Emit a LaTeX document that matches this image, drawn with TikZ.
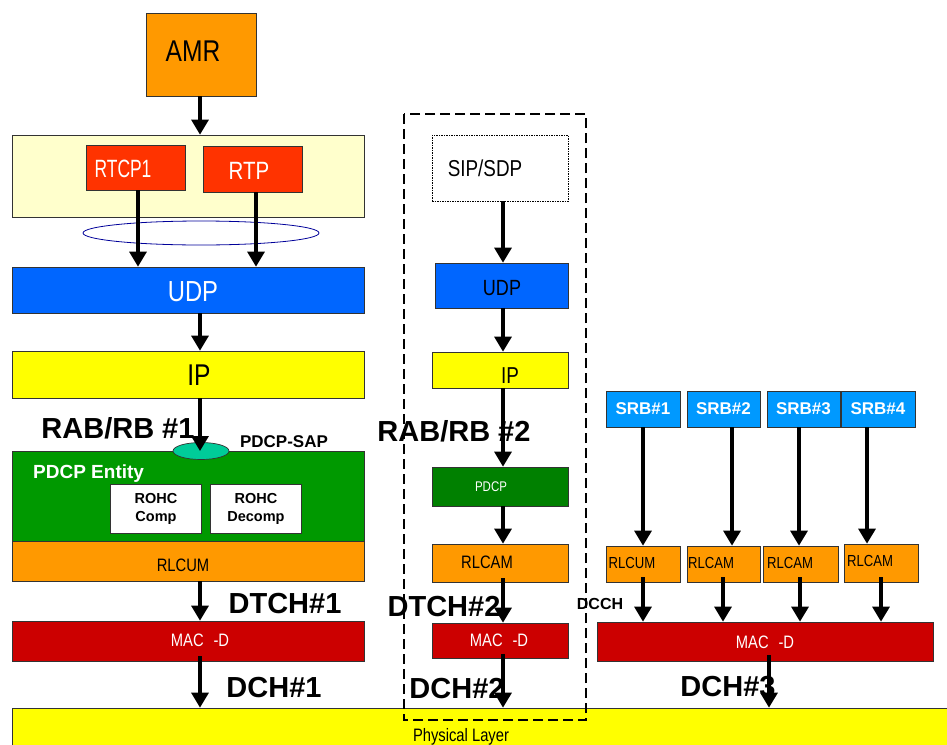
\documentclass[tikz,border=0pt]{standalone}
\usepackage{fontspec}
\usepackage{graphicx}
\setmainfont{Liberation Sans}
\newfontfamily\nf[FakeStretch=0.82]{Liberation Sans}
\usetikzlibrary{arrows.meta,shapes.geometric}
\definecolor{cOrange}{HTML}{FF9900}
\definecolor{cPale}{HTML}{FFFFCC}
\definecolor{cRed}{HTML}{FF3300}
\definecolor{cBlue}{HTML}{0066FF}
\definecolor{cYellow}{HTML}{FFFF00}
\definecolor{cSap}{HTML}{00CC99}
\definecolor{cGreen}{HTML}{009900}
\definecolor{cDGreen}{HTML}{008000}
\definecolor{cMac}{HTML}{CC0000}
\definecolor{cSrb}{HTML}{0099FF}
\definecolor{cEll}{HTML}{000099}
\begin{document}
\begin{tikzpicture}[x=1pt,y=-1pt,
  bx/.style={draw=black!80, line width=0.7pt, inner sep=0pt},
  sz/.style 2 args={minimum width=#1pt, minimum height=#2pt},
  arr/.style={line width=3.2pt, -{Triangle[width=17pt,length=15pt]}},
  sq/.style={inner sep=0pt, font=\nf\fontsize{#1}{#1}\selectfont},
  bl/.style={inner sep=0pt, font=\bfseries\fontsize{#1}{#1}\selectfont},
  dashbox/.style={line width=2.5pt, dash pattern=on 10pt off 5pt}]
\useasboundingbox (0,0) rectangle (947,744);

% ---------------- left column ----------------
\node[bx,sz={110}{83},fill=cOrange] (amr) at (201,54.5) {};
\node[sq=30] (amrT) at (193,51) {AMR};
\node[bx,sz={352}{82},fill=cPale] (yel) at (188,176) {};
\node[bx,sz={99}{45},fill=cRed] (rtcp) at (135.5,167.5) {};
\node[sq=25,text=white] (rtcpT) at (123,169) {\scalebox{0.85}[1]{RTCP1}};
\node[bx,sz={99}{46},fill=cRed] (rtp) at (252.5,169) {};
\node[sq=25,text=white] (rtpT) at (249,171) {RTP};
\node[ellipse,draw=cEll,line width=0.8pt,minimum width=236pt,minimum height=24pt,inner sep=0pt] (grp) at (201,233) {};
\node[bx,sz={352}{46},fill=cBlue] (udpL) at (188,290) {};
\node[sq=29,text=white] (udpLT) at (193,292) {UDP};
\node[bx,sz={352}{47},fill=cYellow] (ipL) at (188,374.5) {};
\node[sq=30] (ipLT) at (199,375) {IP};
\node[bx,sz={352}{90},fill=cGreen] (pdcpL) at (188,496) {};
\node[bl=19,text=white,anchor=base west] (pdcpLT) at (33,478) {PDCP Entity};
\node[bx,sz={91}{49},fill=white,align=center,font=\bfseries\fontsize{14.5}{18}\selectfont] (comp) at (156,508.5) {ROHC\\Comp};
\node[bx,sz={91}{49},fill=white,align=center,font=\bfseries\fontsize{14.5}{18}\selectfont] (decomp) at (256,508.5) {ROHC\\Decomp};
\node[ellipse,draw=black!80,line width=0.7pt,fill=cSap,minimum width=56pt,minimum height=17pt,inner sep=0pt] (sap) at (201,451) {};
\node[bl=17,anchor=base] (sapT) at (284,447) {PDCP-SAP};
\node[bl=29,anchor=base] (rab1) at (118,438) {RAB/RB \#1};
\node[bx,sz={352}{40},fill=cOrange] (rlcL) at (188,561) {};
\node[sq=18] (rlcLT) at (183,565) {RLCUM};
\node[bx,sz={352}{40},fill=cMac] (macL) at (188,641) {};
\node[sq=18,text=white] (macLT) at (200,640) {MAC\hspace{0.55em}-D};
\node[bl=29,anchor=base] (dtch1) at (285,613) {DTCH\#1};
\node[bl=29,anchor=base] (dch1) at (274,697) {DCH\#1};

% ---------------- physical layer ----------------
\node[bx,sz={948}{42},fill=cYellow] (phy) at (486,729) {};
\node[sq=18,anchor=base] (phyT) at (461,741) {Physical Layer};

% ---------------- middle column ----------------
\node[draw=black,line width=0.8pt,dash pattern=on 1.5pt off 1pt,fill=white,inner sep=0pt,sz={136}{66}] (sip) at (500,168) {};
\node[sq=23,anchor=base] (sipT) at (485,176) {SIP/SDP};
\node[bx,sz={133}{45},fill=cBlue] (udpM) at (501.5,285.5) {};
\node[sq=22] (udpMT) at (502,288) {UDP};
\node[bx,sz={136}{36},fill=cYellow] (ipM) at (500,370) {};
\node[sq=23] (ipMT) at (510,376) {IP};
\node[bl=29,anchor=base] (rab2) at (454,441) {RAB/RB \#2};
\node[bx,sz={136}{39},fill=cDGreen] (pdcpM) at (500,486.5) {};
\node[sq=14,text=white] (pdcpMT) at (491,487) {PDCP};
\node[bx,sz={136}{38},fill=cOrange] (rlcM) at (500,563) {};
\node[sq=18] (rlcMT) at (487,562) {RLCAM};
\node[bx,sz={136}{35},fill=cMac] (macM) at (500,640.5) {};
\node[sq=18,text=white] (macMT) at (499,640) {MAC\hspace{0.55em}-D};
\node[bl=29,anchor=base] (dtch2) at (444,616) {DTCH\#2};
\node[bl=29,anchor=base] (dch2) at (457,698) {DCH\#2};

% ---------------- right column ----------------
\foreach \n/\x/\w in {1/643/74, 2/723.5/73, 3/803.5/73, 4/878/74}
  \node[bx,sz={\w}{36},fill=cSrb,text=white,font=\bfseries\fontsize{17}{17}\selectfont] (srb\n) at (\x,409) {SRB\#\n};
\node[bx,sz={74}{36},fill=cOrange] (rlc1) at (643,564) {};
\node[bx,sz={73}{36},fill=cOrange] (rlc2) at (723.5,564) {};
\node[bx,sz={75}{36},fill=cOrange] (rlc3) at (800.5,564) {};
\node[bx,sz={74}{38},fill=cOrange] (rlc4) at (881,563) {};
\node[sq=16] (rlc1T) at (632,563) {RLCUM};
\node[sq=16] (rlc2T) at (711,563) {RLCAM};
\node[sq=16] (rlc3T) at (790,563) {RLCAM};
\node[sq=16] (rlc4T) at (870,561) {RLCAM};
\node[bx,sz={336}{39},fill=cMac] (macR) at (765,641.5) {};
\node[sq=18,text=white] (macRT) at (765,642) {MAC\hspace{0.55em}-D};
\node[bl=16] (dcch) at (600,604) {DCCH};
\node[bl=29,anchor=base] (dch3) at (728,696) {DCH\#3};

% ---------------- dashed frame ----------------
\draw[dashbox] (404,114) rectangle (586,720);

% ---------------- connectors ----------------
\coordinate (cL) at (200,0);
\coordinate (cM) at (503,0);
\coordinate (xa) at (138,0);
\coordinate (xb) at (256,0);
\coordinate (xr) at (769,0);
\draw[arr] (amr.south -| cL) -- (yel.north -| cL);
\draw[arr] (rtcp.south -| xa) -- (udpL.north -| xa);
\draw[arr] (rtp.south -| xb) -- (udpL.north -| xb);
\draw[arr] (udpL.south -| cL) -- (ipL.north -| cL);
\draw[arr] (ipL.south -| cL) -- (sap.center -| cL);
\draw[arr] (rlcL.south -| cL) -- (macL.north -| cL);
\draw[arr] ([yshift=5pt]macL.south -| cL) -- (phy.north -| cL);

\draw[arr] (sip.south -| cM) -- (udpM.north -| cM);
\draw[arr] (udpM.south -| cM) -- (ipM.north -| cM);
\draw[arr] (ipM.south -| cM) -- (pdcpM.north -| cM);
\draw[arr] (pdcpM.south -| cM) -- (rlcM.north -| cM);
\draw[arr] ([yshift=4pt]rlcM.south -| cM) -- (macM.north -| cM);
\draw[arr] ([yshift=4pt]macM.south -| cM) -- (phy.north -| cM);

\foreach \n/\xa/\xb in {1/643/643, 2/732/723, 3/799/800, 4/867/881} {
  \coordinate (ua\n) at (\xa,0);
  \coordinate (ub\n) at (\xb,0);
  \draw[arr] (srb\n.south -| ua\n) -- (rlc\n.north -| ua\n);
  \draw[arr] ([yshift=5pt]rlc\n.south -| ub\n) -- (macR.north -| ub\n);
}
\draw[arr] ([yshift=6pt]macR.south -| xr) -- (phy.north -| xr);
\end{tikzpicture}
\end{document}
